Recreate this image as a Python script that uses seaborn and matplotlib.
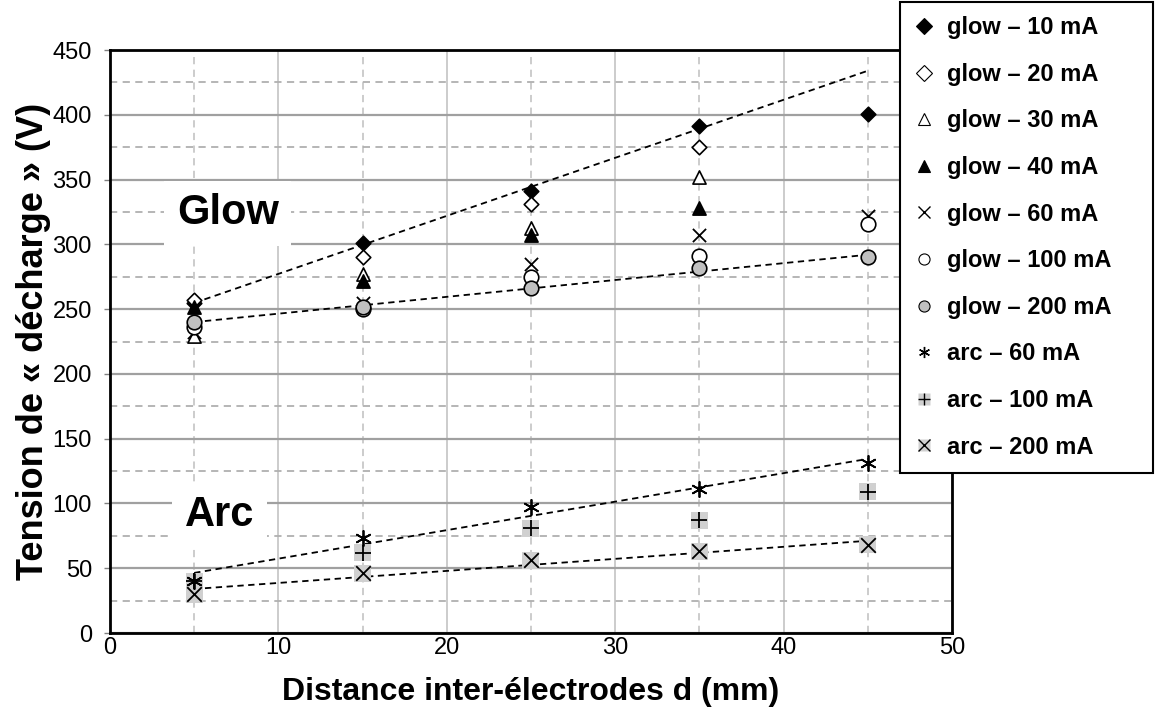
import numpy as np
import matplotlib.pyplot as plt
import seaborn as sns
from matplotlib.lines import Line2D
from matplotlib.legend_handler import HandlerTuple
from matplotlib.ticker import MultipleLocator

# Distance inter-electrodes (mm)
distance = [5, 15, 25, 35, 45]

# Tension de decharge (V) for each regime / current
glow_10 = [255, 301, 341, 391, 401]
glow_20 = [257, 290, 331, 375, np.nan]
glow_30 = [229, 277, 313, 352, np.nan]
glow_40 = [252, 272, 307, 328, np.nan]
glow_60 = [232, 255, 285, 307, 322]
glow_100 = [236, 250, 275, 291, 316]
glow_200 = [240, 252, 266, 282, 290]
arc_60 = [40, 73, 97, 111, 131]
arc_100 = [40, 62, 81, 87, 109]
arc_200 = [30, 46, 56, 63, 68]

labels = ["glow – 10 mA", "glow – 20 mA", "glow – 30 mA", "glow – 40 mA",
          "glow – 60 mA", "glow – 100 mA", "glow – 200 mA",
          "arc – 60 mA", "arc – 100 mA", "arc – 200 mA"]
series = [glow_10, glow_20, glow_30, glow_40, glow_60, glow_100, glow_200,
          arc_60, arc_100, arc_200]

# marker, face colour, size, background square
styles = [
    dict(marker="D", fc="black", s=55, bg=False),
    dict(marker="D", fc="white", s=55, bg=False),
    dict(marker="^", fc="white", s=90, bg=False),
    dict(marker="^", fc="black", s=90, bg=False),
    dict(marker="x", fc="black", s=90, bg=False),
    dict(marker="o", fc="white", s=110, bg=False),
    dict(marker="o", fc="#c0c0c0", s=110, bg=False),
    dict(marker=(6, 2, 0), fc="black", s=120, bg=False),
    dict(marker="+", fc="black", s=120, bg=True),
    dict(marker="x", fc="black", s=110, bg=True),
]

plt.rcParams["font.family"] = ["Liberation Sans", "DejaVu Sans"]
fig = plt.figure(figsize=(11.55, 7.16), dpi=100)
ax = fig.add_axes([0.0952, 0.1159, 0.7290, 0.8142])

ax.set_xlim(0, 50)
ax.set_ylim(0, 450)
ax.xaxis.set_major_locator(MultipleLocator(10))
ax.xaxis.set_minor_locator(MultipleLocator(5))
ax.yaxis.set_major_locator(MultipleLocator(50))
ax.yaxis.set_minor_locator(MultipleLocator(25))
ax.grid(which="major", axis="y", color="#a0a0a0", lw=1.6, ls="-")
ax.grid(which="minor", axis="y", color="#b0b0b0", lw=1.3, ls=(0, (4, 3)))
ax.grid(which="major", axis="x", color="#c8c8c8", lw=1.3, ls="-")
ax.grid(which="minor", axis="x", color="#c8c8c8", lw=1.3, ls=(0, (4, 3)))
ax.set_axisbelow(True)
ax.tick_params(which="minor", length=0)
ax.tick_params(axis="y", which="major", length=4, width=1, color="#808080",
               labelsize=17, pad=9)
ax.tick_params(axis="x", which="major", length=0, labelsize=17, pad=3)
for sp in ax.spines.values():
    sp.set_color("black")
    sp.set_linewidth(2)

# dashed linear trendlines
xs = np.array(distance, dtype=float)
trend = [(glow_10, 4), (glow_200, 5), (arc_60, 5), (arc_200, 5)]
for vals, n in trend:
    k, b = np.polyfit(xs[:n], np.array(vals[:n], dtype=float), 1)
    ax.plot([5, 45], [k * 5 + b, k * 45 + b], color="black", lw=1.3,
            ls=(0, (3.5, 2.5)), zorder=2)

handles = []
for vals, st, lab in zip(series, styles, labels):
    y = np.array(vals, dtype=float)
    ok = ~np.isnan(y)
    if st["bg"]:
        sns.scatterplot(x=xs[ok], y=y[ok], marker="s", s=150, color="#d0d0d0",
                        edgecolor="none", ax=ax, zorder=3)
    if st["marker"] in ("x", "+") or isinstance(st["marker"], tuple):
        sns.scatterplot(x=xs[ok], y=y[ok], marker=st["marker"], s=st["s"],
                        color="black", linewidth=1.3, ax=ax, zorder=4)
        h = Line2D([], [], ls="none", marker=st["marker"], color="black",
                   markersize=8, mew=1.0)
    else:
        sns.scatterplot(x=xs[ok], y=y[ok], marker=st["marker"], s=st["s"],
                        color=st["fc"], edgecolor="black", linewidth=1.2,
                        ax=ax, zorder=4)
        h = Line2D([], [], ls="none", marker=st["marker"],
                   markerfacecolor=st["fc"], markeredgecolor="black",
                   markersize=8, mew=0.8)
    if st["bg"]:
        sq = Line2D([], [], ls="none", marker="s", markersize=9,
                    markerfacecolor="#d0d0d0", markeredgecolor="none")
        h = (sq, h)
    handles.append(h)

ax.text(7.0, 324, "Glow", fontsize=30, fontweight="bold", ha="center",
        va="center", bbox=dict(facecolor="white", edgecolor="none", pad=9),
        zorder=5)
ax.text(6.5, 91, "Arc", fontsize=30, fontweight="bold", ha="center",
        va="center", bbox=dict(facecolor="white", edgecolor="none", pad=9),
        zorder=5)

ax.set_xlabel("Distance inter-électrodes d (mm)", fontsize=23,
              fontweight="bold", labelpad=13)
ax.set_ylabel("Tension de « décharge » (V)", fontsize=26,
              fontweight="bold", labelpad=1)

leg = fig.legend(handles, labels, loc="upper left",
                 bbox_to_anchor=(900 / 1155, 1 - 479 / 716,
                                 253 / 1155, 477 / 716),
                 mode="expand", handler_map={tuple: HandlerTuple(ndivide=1)},
                 prop=dict(size=17, weight="bold"), frameon=True,
                 fancybox=False, edgecolor="black", framealpha=1,
                 labelspacing=1.0, handlelength=0.8, handletextpad=0.57,
                 borderpad=0.6, borderaxespad=0)
leg.get_frame().set_linewidth(1.5)
leg.set_zorder(10)

fig.savefig("out.png", dpi=100)
